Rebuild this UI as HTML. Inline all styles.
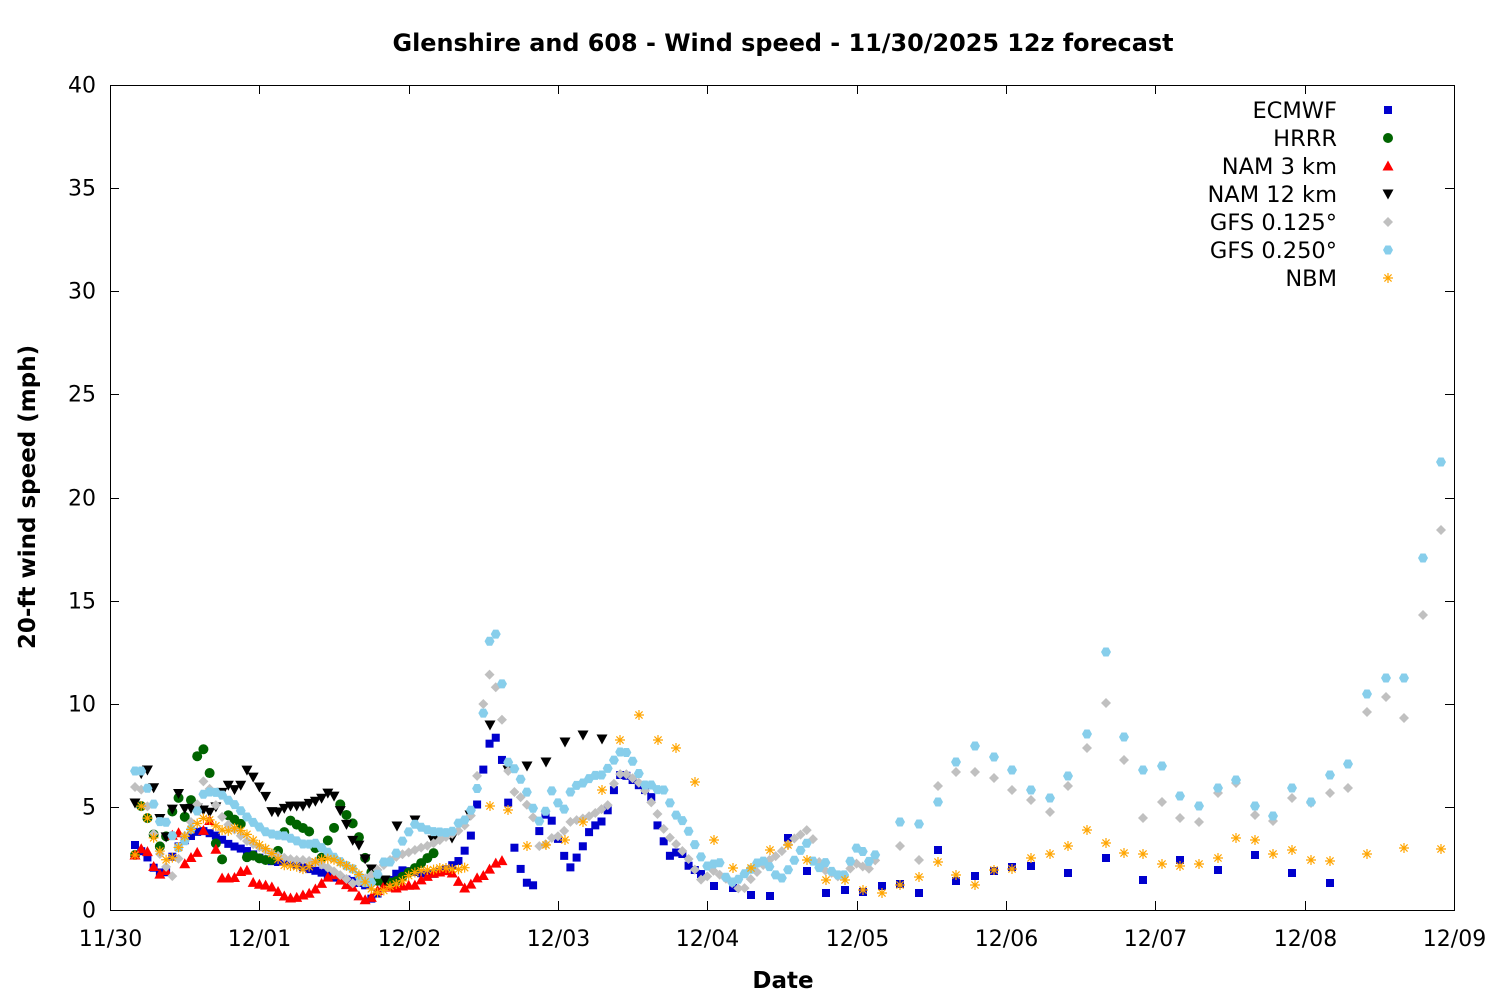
<!DOCTYPE html>
<html><head><meta charset="utf-8"><style>
body{margin:0;background:#fff;}
svg{display:block;font-family:"Liberation Sans","DejaVu Sans",sans-serif;}
</style></head><body>
<svg id="s" width="1500" height="1000" xmlns="http://www.w3.org/2000/svg">
<rect width="1500" height="1000" fill="#fff"/>
<text x="783" y="51" font-size="23.9" font-weight="bold" text-anchor="middle" font-family="DejaVu Sans, sans-serif">Glenshire and 608 - Wind speed - 11/30/2025 12z forecast</text>
<g id="axes" stroke="#000" stroke-width="1" fill="none"></g>
<g id="lab" font-size="22" font-family="DejaVu Sans, sans-serif"></g>
<text x="783" y="988" font-size="23" font-weight="bold" text-anchor="middle" font-family="DejaVu Sans, sans-serif">Date</text>
<text transform="translate(35,497) rotate(-90)" font-size="23" font-weight="bold" text-anchor="middle" font-family="DejaVu Sans, sans-serif">20-ft wind speed (mph)</text>
<g id="data"></g>
<g id="leg" font-size="22.5" font-family="DejaVu Sans, sans-serif" text-anchor="end"></g>
</svg>
<script>
var NS="http://www.w3.org/2000/svg";
function el(p,t,a,txt){var e=document.createElementNS(NS,t);for(var k in a)e.setAttribute(k,a[k]);if(txt!=null)e.textContent=txt;p.appendChild(e);return e;}
var L=110,R=1454,T=85,B=910;
var ax=document.getElementById('axes'),lab=document.getElementById('lab');
el(ax,'rect',{x:L+0.5,y:T+0.5,width:R-L,height:B-T});
for(var v=0;v<=40;v+=5){var y=B-v*20.625;y=Math.round(y)+0.5;
el(ax,'line',{x1:L,y1:y,x2:L+9,y2:y});el(ax,'line',{x1:R-9,y1:y,x2:R,y2:y});
el(lab,'text',{x:96,y:y+7,'text-anchor':'end'},String(v));}
var dl=['11/30','12/01','12/02','12/03','12/04','12/05','12/06','12/07','12/08','12/09'];
for(var d=0;d<10;d++){var x=Math.round(L+d*149.33)+0.5;
el(ax,'line',{x1:x,y1:B,x2:x,y2:B-9});el(ax,'line',{x1:x,y1:T,x2:x,y2:T+9});
el(lab,'text',{x:x,y:946,'text-anchor':'middle'},dl[d]);}
function interp(kp,x){for(var i=0;i<kp.length-1;i++){if(x>=kp[i][0]&&x<=kp[i+1][0]){var t=(x-kp[i][0])/(kp[i+1][0]-kp[i][0]||1);return kp[i][1]+t*(kp[i+1][1]-kp[i][1]);}}return kp[kp.length-1][1];}
function dense(kp,step){var o=[];for(var x=kp[0][0];x<=kp[kp.length-1][0]+0.01;x+=step)o.push([x,interp(kp,x)]);return o;}
var g=document.getElementById('data');
function mark(p,type,x,y,c){
 if(type=='sq')el(p,'rect',{x:x-4,y:y-4,width:8,height:8,fill:c});
 else if(type=='ci')el(p,'circle',{cx:x,cy:y,r:5,fill:c});
 else if(type=='tu')el(p,'polygon',{points:(x-5.5)+','+(y+4.5)+' '+(x+5.5)+','+(y+4.5)+' '+x+','+(y-5.5),fill:c});
 else if(type=='td')el(p,'polygon',{points:(x-5.5)+','+(y-4.5)+' '+(x+5.5)+','+(y-4.5)+' '+x+','+(y+5.5),fill:c});
 else if(type=='di')el(p,'polygon',{points:(x-5)+','+y+' '+x+','+(y-5)+' '+(x+5)+','+y+' '+x+','+(y+5),fill:c});
 else if(type=='hx')el(p,'polygon',{points:(x-5)+','+y+' '+(x-2.5)+','+(y-4.5)+' '+(x+2.5)+','+(y-4.5)+' '+(x+5)+','+y+' '+(x+2.5)+','+(y+4.5)+' '+(x-2.5)+','+(y+4.5),fill:c});
 else if(type=='as'){var s=5;el(p,'path',{d:'M'+(x-s)+' '+y+'H'+(x+s)+'M'+x+' '+(y-s)+'V'+(y+s)+'M'+(x-3.6)+' '+(y-3.6)+'L'+(x+3.6)+' '+(y+3.6)+'M'+(x-3.6)+' '+(y+3.6)+'L'+(x+3.6)+' '+(y-3.6),stroke:c,'stroke-width':1.2,fill:'none'});}
}
function draw(pts,type,c){pts.forEach(function(p){mark(g,type,p[0],p[1],c);});}
var g1=dense([[135,787],[142,790],[148,808],[155,840],[162,860],[168,870],[175,880],[180,850],[186,832],[193,818],[200,795],[205,775],[210,790],[217,808],[225,822],[235,830],[245,840],[255,845],[265,850],[275,855],[285,858],[295,860],[305,860],[315,862],[325,866],[335,872],[345,878],[355,885],[362,880],[370,876],[380,868],[390,860],[400,855],[410,852],[420,848],[430,845],[440,840],[450,835],[460,830],[470,820],[476,790],[482,713],[488,672],[494,682],[500,700],[506,760],[512,790],[518,795],[524,800],[530,810],[535,822],[540,850],[545,845],[550,838],[555,838],[560,835],[565,830],[570,822],[577,820],[585,818],[592,815],[600,810],[608,805],[615,780],[622,772],[628,775],[635,780],[642,785],[650,800],[658,815],[665,832],[672,840],[680,848],[688,858],[695,870],[700,880],[706,878],[712,870],[720,875],[728,880],[735,885],[740,890],[745,888],[750,880],[757,872],[765,863],[772,858],[778,855],[785,848],[792,840],[800,835],[807,830],[812,835],[818,860],[824,870],[830,872],[837,876],[842,878],[849,870],[855,863],[862,866],[868,870],[874,862],[881,852]],6.22).concat([[900,846],[919,860],[938,786],[956,772],[975,772],[994,778],[1012,790],[1031,800],[1050,812],[1068,786],[1087,748],[1106,703],[1124,760],[1143,818],[1162,802],[1180,818],[1199,822],[1218,793],[1236,783],[1255,815],[1273,821],[1292,798],[1311,803],[1330,793],[1348,788],[1367,712],[1386,697],[1404,718],[1423,615],[1441,530]]);
var g2=dense([[135,771],[142,771],[148,790],[154,805],[160,822],[166,822],[172,835],[178,848],[184,842],[190,832],[196,815],[202,795],[208,792],[215,792],[222,795],[228,800],[235,805],[242,812],[250,820],[258,826],[266,832],[275,835],[285,836],[295,840],[305,845],[315,843],[325,850],[335,858],[345,865],[355,870],[362,880],[368,885],[375,880],[383,862],[390,862],[397,852],[403,840],[410,830],[416,823],[422,828],[428,830],[435,832],[442,832],[448,833],[455,830],[460,820],[466,820],[472,808],[478,785],[484,704],[490,636],[496,634],[502,684],[508,762],[514,768],[520,778],[526,790],[532,805],[538,823],[545,813],[552,790],[558,803],[565,810],[571,790],[577,785],[583,783],[590,778],[596,775],[602,775],[608,768],[614,760],[620,752],[626,752],[632,760],[638,772],[645,785],[652,785],[658,790],[664,790],[670,803],[676,815],[682,820],[688,830],[694,843],[700,855],[706,866],[712,866],[718,858],[724,875],[730,882],[736,882],[742,875],[748,872],[754,866],[760,860],[766,862],[772,870],[778,878],[784,878],[790,866],[796,858],[802,848],[808,842],[814,865],[820,868],[826,862],[832,872],[838,875],[844,875],[850,862],[856,848],[862,850],[868,862],[874,858],[880,842]],6.22).concat([[900,822],[919,824],[938,802],[956,762],[975,746],[994,757],[1012,770],[1031,790],[1050,798],[1068,776],[1087,734],[1106,652],[1124,737],[1143,770],[1162,766],[1180,796],[1199,806],[1218,788],[1236,780],[1255,806],[1273,816],[1292,788],[1311,802],[1330,775],[1348,764],[1367,694],[1386,678],[1404,678],[1423,558],[1441,462]]);
var nbm=dense([[135,855],[142,800],[148,820],[155,842],[162,855],[168,862],[175,855],[182,840],[188,832],[195,826],[202,818],[210,820],[218,828],[226,832],[234,828],[240,830],[248,835],[256,843],[265,848],[275,856],[285,866],[295,866],[305,870],[315,862],[325,858],[335,860],[345,865],[355,870],[362,878],[370,888],[378,893],[385,890],[392,885],[400,883],[408,876],[416,872],[424,870],[432,870],[440,868],[448,868],[456,870],[464,868],[470,865]],6.22).concat([[490,806],[508,810],[527,846],[546,845],[565,840],[583,822],[602,790],[620,740],[639,715],[658,740],[676,748],[695,782],[714,840],[733,868],[751,868],[770,850],[788,845],[807,860],[826,880],[845,880],[863,890],[882,893],[900,885],[919,877],[938,862],[956,875],[975,885],[994,870],[1012,869],[1031,858],[1050,854],[1068,846],[1087,830],[1106,843],[1124,853],[1143,854],[1162,864],[1180,866],[1199,864],[1218,858],[1236,838],[1255,840],[1273,854],[1292,850],[1311,860],[1330,861],[1367,854],[1404,848],[1441,849]]);
var ec=dense([[135,845],[148,858],[155,870],[165,875],[175,850],[185,840],[200,830],[215,835],[230,845],[245,850],[260,858],[275,862],[290,862],[305,868],[320,872],[335,878],[350,880],[365,885],[372,900],[385,885],[400,870],[415,872],[430,875],[445,870],[460,860],[470,840],[478,800],[485,760],[490,742],[495,735],[502,760],[510,815],[515,852],[522,873],[527,883],[533,886],[540,825],[548,810],[555,830],[560,845],[565,858],[570,868],[577,857],[583,846],[590,830],[598,823],[605,820],[612,795],[620,775],[628,776],[636,783],[645,790],[652,798],[658,828],[664,842],[670,856],[677,852],[685,855],[690,870],[697,870],[704,877]],6.22).concat([[714,886],[733,888],[751,895],[770,896],[788,838],[807,871],[826,893],[845,890],[863,892],[882,886],[900,884],[919,893],[938,850],[956,881],[975,876],[994,871],[1012,867],[1031,866],[1068,873],[1106,858],[1143,880],[1180,860],[1218,870],[1255,855],[1292,873],[1330,883]]);
var hr=dense([[135,855],[142,800],[148,820],[155,838],[162,850],[168,830],[175,800],[180,797],[186,822],[191,800],[196,758],[200,752],[205,748],[210,775],[216,845],[222,860],[228,815],[235,820],[240,818],[245,858],[252,855],[258,858],[265,860],[275,860],[285,830],[292,818],[297,825],[303,828],[310,832],[320,862],[328,840],[334,828],[340,804],[345,812],[350,822],[356,825],[362,850],[368,865],[375,880],[385,883],[395,882],[405,875],[415,868],[425,860],[435,852]],6.22);
var n3=dense([[135,855],[142,848],[148,852],[155,870],[162,876],[168,868],[175,815],[180,840],[186,870],[192,855],[198,852],[204,828],[210,820],[216,850],[222,878],[228,878],[234,878],[240,872],[246,868],[252,882],[258,884],[265,885],[272,887],[280,893],[287,898],[295,898],[303,895],[310,893],[318,887],[325,880],[332,873],[340,880],[347,885],[355,888],[360,898],[366,900],[372,897],[378,890],[385,885],[392,888],[400,888],[406,883],[412,888],[418,882],[424,878],[430,875],[436,872],[442,872],[448,870],[455,875],[462,888],[468,888],[474,880],[480,876],[486,875],[492,865],[498,862],[504,860],[508,833]],6.22);
var n12=dense([[135,803],[142,770],[148,770],[155,792],[162,830],[168,840],[175,790],[180,795],[187,815],[193,805],[200,810],[207,810],[213,815],[220,795],[228,785],[235,790],[241,785],[247,770],[254,778],[260,788],[266,797],[272,812],[278,812],[285,808],[291,806],[297,806],[303,806],[310,803],[316,801],[322,798],[328,793],[334,796],[340,810],[346,823],[352,840],[358,843],[364,857],[372,870]],6.22).concat([[385,880],[397,826],[415,820],[433,840],[452,838],[470,815],[490,725],[508,770],[527,766],[546,762],[565,742],[583,735],[602,739]]);
draw(ec,'sq','#0000cd');draw(hr,'ci','#006400');draw(n3,'tu','#ff0000');draw(n12,'td','#000');
draw(g1,'di','#c0c0c0');draw(g2,'hx','#87ceeb');draw(nbm,'as','#ffa500');
var leg=document.getElementById('leg');
var items=[['ECMWF','sq','#0000cd'],['HRRR','ci','#006400'],['NAM 3 km','tu','#ff0000'],['NAM 12 km','td','#000'],['GFS 0.125°','di','#c0c0c0'],['GFS 0.250°','hx','#87ceeb'],['NBM','as','#ffa500']];
items.forEach(function(it,i){var y=110+i*28;el(leg,'text',{x:1337,y:y+8},it[0]);mark(leg,it[1],1388,y,it[2]);});
</script>
</body></html>
